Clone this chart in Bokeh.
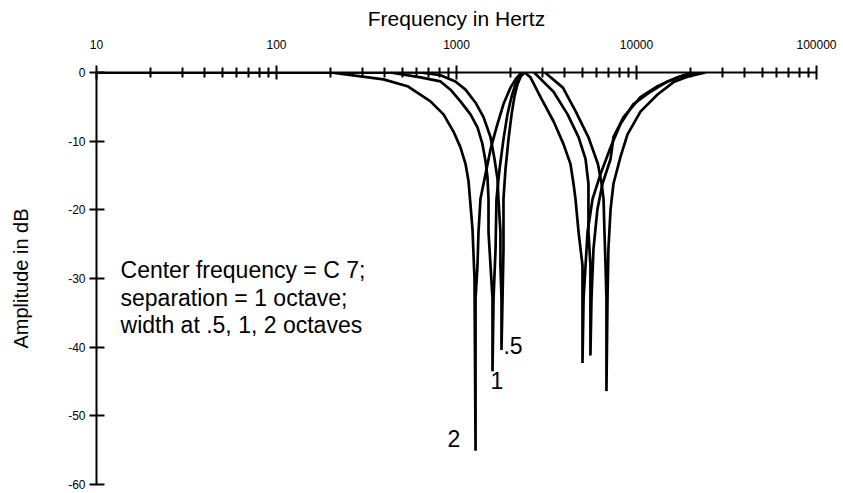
from bokeh.plotting import figure
from bokeh.models import FixedTicker, PrintfTickFormatter, Label, Range1d
from bokeh.embed import file_html
from bokeh.resources import INLINE

FONT = "Liberation Sans"

# ---- data (frequency in Hz, amplitude in dB) ----
x_major = [10, 100, 1000, 10000, 100000]
x_minor = [m * d for d in [10, 100, 1000, 10000] for m in range(2, 10)]
y_major = [-60, -50, -40, -30, -20, -10, 0]

# low notches (widths 2, 1, .5 octaves)
l2_f = [10, 200, 393, 534, 717, 847, 962, 1052, 1122, 1166, 1227, 1259, 1276,
        1276, 1308, 1325, 1359, 1431, 1545, 1668, 1824, 1995, 2128, 2270, 2328]
l2_db = [0, 0, -1.0, -2.0, -4.2, -6.1, -8.6, -10.9, -13.3, -15.8, -22.8, -30.0, -55.1,
         -32.9, -28.1, -23.2, -18.4, -15.5, -11.2, -8.0, -4.6, -2.2, -1.0, -0.14, 0]

l1_f = [10, 430, 631, 815, 926, 1052, 1196, 1308, 1393, 1449, 1486, 1506, 1506, 1545, 1585, 1585,
        1606, 1648, 1668, 1734, 1824, 1919, 2023, 2128, 2239, 2355]
l1_db = [0, 0, -0.7, -1.3, -2.5, -4.2, -6.1, -8.0, -10.4, -12.9, -15.2, -18.4, -23.2, -28.1, -32.9, -43.5,
         -32.9, -25.7, -18.4, -14.1, -9.7, -6.1, -3.5, -1.7, -0.6, 0]

l05_f = [10, 631, 815, 987, 1122, 1276, 1413, 1545, 1626, 1690, 1710, 1754, 1754, 1778, 1778,
         1802, 1824, 1824, 1871, 1945, 2023, 2099, 2183, 2270, 2388]
l05_db = [0, 0, -0.4, -1.3, -2.5, -4.4, -6.5, -9.4, -12.6, -15.5, -18.4, -23.2, -28.1, -32.9, -40.4,
          -32.9, -25.7, -18.4, -14.1, -9.7, -6.1, -3.5, -1.7, -0.6, 0]

# high notches
ra_f = [2388, 2576, 2931, 3459, 3926, 4295, 4467, 4581, 4764, 5012, 5012,
        5082, 5212, 5346, 5702, 6310, 7178, 8147, 9616, 11960, 14860, 17540, 21280]
ra_db = [0, -0.7, -3.6, -7.1, -10.4, -13.3, -16.2, -18.4, -23.2, -28.1, -42.3,
         -32.9, -28.1, -23.2, -18.4, -14.8, -10.9, -7.5, -4.6, -2.8, -1.3, -0.6, 0]

rb_f = [2700, 3459, 4140, 4764, 5212, 5408, 5408, 5408, 5546, 5546,
        5623, 5768, 6067, 6471, 7178, 7447, 8472, 10520, 13090, 16900, 20500]
rb_db = [0, -2.8, -6.1, -9.4, -12.6, -16.2, -18.4, -23.2, -28.1, -41.2,
         -32.9, -25.7, -19.9, -16.2, -12.6, -9.4, -6.5, -3.6, -2.0, -0.7, 0]

rc_f = [3100, 3900, 4600, 5400, 6100, 6400, 6561, 6637, 6730, 6808, 6808,
        6902, 6982, 7178, 7447, 8147, 8913, 10520, 13090, 16070, 19190, 24150]
rc_db = [0, -2.2, -5.7, -9.4, -13.3, -16.2, -18.4, -23.2, -28.1, -32.9, -46.4,
         -32.9, -25.7, -19.9, -16.2, -12.3, -9.0, -5.7, -3.2, -1.4, -0.6, 0]

curves = [(l2_f, l2_db), (l1_f, l1_db), (l05_f, l05_db),
          (ra_f, ra_db), (rb_f, rb_db), (rc_f, rc_db)]

notes = ["Center frequency = C 7;", "separation = 1 octave;", "width at .5, 1, 2 octaves"]
width_labels = [".5", "1", "2"]

# ---- figure ----
p = figure(width=843, height=493, x_axis_type="log",
           x_range=Range1d(10, 100000), y_range=Range1d(-60, 0),
           x_axis_location="above", output_backend="svg", toolbar_location=None,
           min_border_left=96, min_border_right=27, min_border_top=72, min_border_bottom=9)
p.outline_line_color = None
p.xgrid.visible = False
p.ygrid.visible = False
p.background_fill_color = "white"

xa = p.xaxis[0]
xa.ticker = FixedTicker(ticks=x_major, minor_ticks=x_minor)
xa.formatter = PrintfTickFormatter(format="%d")
xa.axis_label = "Frequency in Hertz"
xa.axis_label_text_font = FONT
xa.axis_label_text_font_size = "21px"
xa.axis_label_text_font_style = "normal"
xa.axis_label_standoff = 7
xa.major_label_text_font = FONT
xa.major_label_text_font_size = "12px"
xa.major_label_standoff = 17
xa.major_tick_out = 7
xa.major_tick_in = 7
xa.minor_tick_out = 5
xa.minor_tick_in = 5

ya = p.yaxis[0]
ya.ticker = FixedTicker(ticks=y_major, minor_ticks=[])
ya.formatter = PrintfTickFormatter(format="%d")
ya.axis_label = "Amplitude in dB"
ya.axis_label_text_font = FONT
ya.axis_label_text_font_size = "20px"
ya.axis_label_text_font_style = "normal"
ya.axis_label_standoff = 33
ya.major_label_text_font = FONT
ya.major_label_text_font_size = "12px"
ya.major_label_standoff = 4
ya.major_tick_out = 7
ya.major_tick_in = 8

for ax in (xa, ya):
    ax.axis_line_color = "black"
    ax.axis_line_width = 2
    ax.major_tick_line_color = "black"
    ax.major_tick_line_width = 2
    ax.minor_tick_line_color = "black"
    ax.minor_tick_line_width = 2
    ax.major_label_text_color = "black"
    ax.axis_label_text_color = "black"

for f, db in curves:
    p.line(f, db, line_color="black", line_width=2.7)

# annotation block
note_y = [-28.8, -32.8, -36.8]
for txt, yy in zip(notes, note_y):
    p.add_layout(Label(x=13.6, y=yy, text=txt, text_font=FONT, text_font_size="23px",
                       text_color="black", text_baseline="alphabetic"))

label_pos = [(1824, -39.7), (1545, -44.9), (891, -53.3)]
for txt, (xx, yy) in zip(width_labels, label_pos):
    p.add_layout(Label(x=xx, y=yy, text=txt, text_font=FONT, text_font_size="23px",
                       text_color="black", text_baseline="middle"))

open("out.html", "w").write(file_html(p, INLINE))
